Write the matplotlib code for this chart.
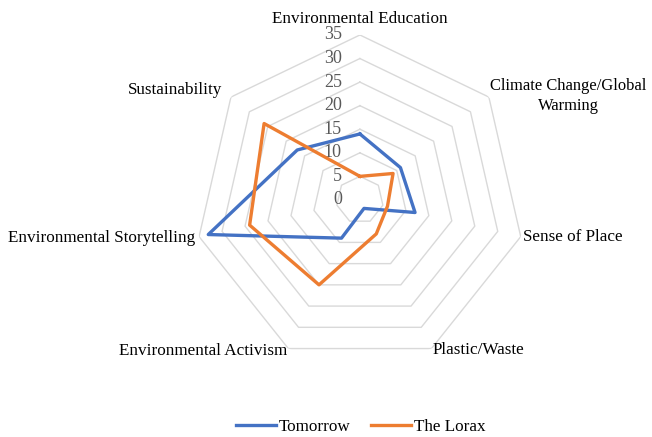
import numpy as np
import matplotlib
matplotlib.use("Agg")
import matplotlib.pyplot as plt

# Data
categories = ["Environmental Education", "Climate Change/Global\nWarming", "Sense of Place",
              "Plastic/Waste", "Environmental Activism", "Environmental Storytelling",
              "Sustainability"]
tomorrow = [14, 11, 12, 2, 9, 33, 17]
lorax = [5, 9, 6, 8, 20, 24, 26]
ring_values = [5, 10, 15, 20, 25, 30, 35]
tick_values = [0, 5, 10, 15, 20, 25, 30, 35]

plt.rcParams['font.family'] = ['Liberation Serif', 'DejaVu Serif']

BLUE = '#4472C4'
ORANGE = '#ED7D31'
GRID = '#D9D9D9'

n = len(categories)
angles = np.arange(n) * 2 * np.pi / n
closed = np.append(angles, angles[0])

fig = plt.figure(figsize=(6.52, 4.37), dpi=100)
ax = fig.add_axes([0.299, 0.165, 0.506, 0.755], projection='polar')
ax.set_theta_zero_location('N')
ax.set_theta_direction(-1)
ax.set_ylim(0, 35)
ax.grid(False)
ax.spines['polar'].set_visible(False)
ax.set_xticks([])
ax.set_yticks([])
ax.patch.set_alpha(0)

# heptagon rings
for r in ring_values:
    ax.plot(closed, [r] * (n + 1), color=GRID, lw=1, zorder=1)

# radial tick labels
for v in tick_values:
    ax.annotate(str(v), xy=(0, v), xytext=(-13, 0), textcoords='offset points',
                ha='right', va='center', fontsize=13, color='#595959')

l1, = ax.plot(closed, tomorrow + tomorrow[:1], color=BLUE, lw=2.4, label='Tomorrow', zorder=3)
l2, = ax.plot(closed, lorax + lorax[:1], color=ORANGE, lw=2.4, label='The Lorax', zorder=3)

# category labels: radius, alignment, size
label_style = [
    (38.4, 'center', 12.3),
    (35.4, 'left', 11.9),
    (35.6, 'left', 12.3),
    (35.4, 'left', 12.3),
    (35.6, 'right', 12.3),
    (35.9, 'right', 12.3),
    (37.4, 'right', 12.3),
]
for ang, lab, (r, ha, fs) in zip(angles, categories, label_style):
    ax.text(ang, r, lab, ha=ha, va='center', fontsize=fs, color='#000000',
            multialignment='center', linespacing=1.3)

fig.legend(handles=[l1, l2], loc='center', bbox_to_anchor=(0.553, 0.023), ncol=2,
           frameon=False, fontsize=12.3, handlelength=2.35, columnspacing=1.2,
           handletextpad=0.15)

fig.savefig('out.png', dpi=100)
